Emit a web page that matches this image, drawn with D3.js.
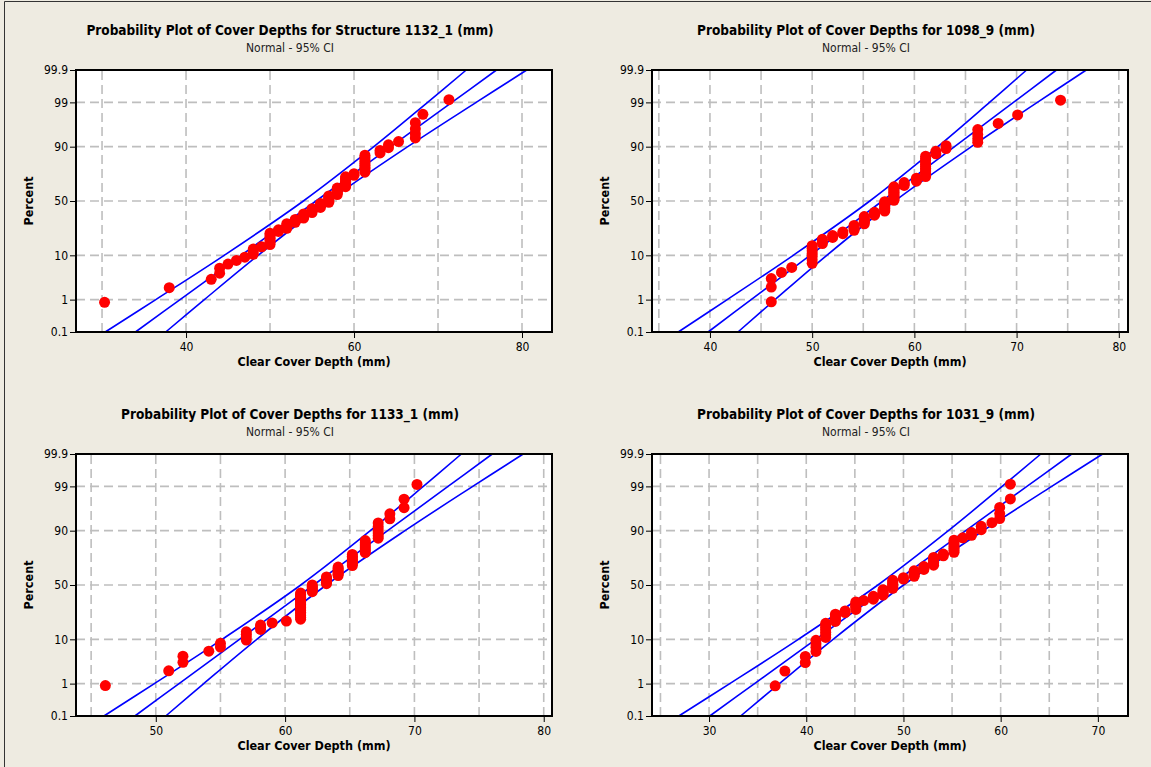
<!DOCTYPE html>
<html><head><meta charset="utf-8">
<script src="https://cdn.jsdelivr.net/npm/d3@7"></script>
<style>
html,body{margin:0;padding:0;background:#EEEBE1;}
svg{display:block;}
text{font-family:"DejaVu Sans Condensed","DejaVu Sans",sans-serif;font-stretch:condensed;fill:#000;}
</style></head><body>
<svg id="chart" width="1151" height="767"></svg>
<script>
// ---------- shared labels ----------
const percentTicks = [0.1, 1, 10, 50, 90, 99, 99.9];
const percentGrid = [1, 10, 50, 90, 99];
const subtitle = "Normal - 95% CI";
const xLabel = "Clear Cover Depth (mm)";
const yLabel = "Percent";
const titles = [
  "Probability Plot of Cover Depths for Structure 1132_1 (mm)",
  "Probability Plot of Cover Depths for 1098_9 (mm)",
  "Probability Plot of Cover Depths for 1133_1 (mm)",
  "Probability Plot of Cover Depths for 1031_9 (mm)"
];

// ---------- panel 1 : 1132_1 ----------
const depths1 = [30.3,38,43,44,45,46,47,48,49,50,51,52,53,54,55,56,57,58,59,60,61.3,63.1,64.1,65.3,67.3,68.2,71.3];
const counts1 = [1,1,1,2,1,1,1,3,1,7,2,4,3,4,4,4,6,6,8,2,10,2,2,1,4,1,1];
const fit1   = [33.98,39.29,46.56,55.47,64.38,71.65,76.96];
const lower1 = [30.38,36.40,44.54,53.97,62.36,68.76,73.36];
const upper1 = [37.58,42.18,48.58,56.97,66.40,74.54,80.56];
const xGrid1 = [30,40,50,60,70,80];
const xLabels1 = [40,60,80];

// ---------- panel 2 : 1098_9 ----------
const depths2 = [46,47,48,50,51,52,53,54.1,55.1,56.1,57.1,58,59,60.2,61.1,62.1,63.1,66.2,68.2,70.1,74.3];
const counts2 = [3,1,1,7,3,2,2,4,6,3,8,11,3,3,12,2,2,4,1,1,1];
const fit2   = [39.82,44.03,49.79,56.86,63.93,69.69,73.90];
const lower2 = [36.90,41.69,48.15,55.64,62.29,67.35,70.98];
const upper2 = [42.74,46.37,51.43,58.08,65.57,72.03,76.82];
const xGrid2 = [35,40,45,50,55,60,65,70,75,80];
const xLabels2 = [40,50,60,70,80];

// ---------- panel 3 : 1133_1 ----------
const depths3 = [46.1,51,52.1,54.1,55,57,58.1,59,60.1,61.2,62.1,63.2,64.1,65.2,66.2,67.2,68.1,69.2,70.2];
const counts3 = [1,1,2,1,2,4,3,1,1,18,6,6,7,8,7,6,2,2,1];
const fit3   = [48.38,51.80,56.47,62.20,67.93,72.60,76.02];
const lower3 = [45.99,49.89,55.13,61.21,66.59,70.69,73.63];
const upper3 = [50.77,53.71,57.81,63.19,69.27,74.51,78.41];
const xGrid3 = [45,50,55,60,65,70,75,80];
const xLabels3 = [50,60,70,80];

// ---------- panel 4 : 1031_9 ----------
const depths4 = [36.8,37.8,39.9,41,42,43,44,45.1,45.9,46.9,47.9,48.9,50,51.1,52.1,53.1,54.1,55.2,56.1,57,58,59.1,59.9,61];
const counts4 = [1,1,2,4,7,5,2,6,1,3,5,7,2,5,3,6,2,7,1,2,2,1,3,2];
const fit4   = [30.07,34.68,40.97,48.69,56.41,62.70,67.31];
const lower4 = [26.89,32.13,39.18,47.37,54.62,60.15,64.13];
const upper4 = [33.25,37.23,42.76,50.01,58.20,65.25,70.49];
const xGrid4 = [25,30,35,40,45,50,55,60,65,70];
const xLabels4 = [30,40,50,60,70];

// inverse standard normal CDF (Acklam)
function qnorm(p){
  const a=[-3.969683028665376e+01,2.209460984245205e+02,-2.759285104469687e+02,1.383577518672690e+02,-3.066479806614716e+01,2.506628277459239e+00];
  const b=[-5.447609879822406e+01,1.615858368580409e+02,-1.556989798598866e+02,6.680131188771972e+01,-1.328068155288572e+01];
  const c=[-7.784894002430293e-03,-3.223964580411365e-01,-2.400758277161838e+00,-2.549671010050803e+00,4.374664141464968e+00,2.938163982698783e+00];
  const d=[7.784695709041462e-03,3.224671290700398e-01,2.445134137142996e+00,3.754408661907416e+00];
  const pl=0.02425, ph=1-pl; let q,r;
  if(p<pl){q=Math.sqrt(-2*Math.log(p));return (((((c[0]*q+c[1])*q+c[2])*q+c[3])*q+c[4])*q+c[5])/((((d[0]*q+d[1])*q+d[2])*q+d[3])*q+1);}
  if(p<=ph){q=p-0.5;r=q*q;return (((((a[0]*r+a[1])*r+a[2])*r+a[3])*r+a[4])*r+a[5])*q/(((((b[0]*r+b[1])*r+b[2])*r+b[3])*r+b[4])*r+1);}
  q=Math.sqrt(-2*Math.log(1-p));return -(((((c[0]*q+c[1])*q+c[2])*q+c[3])*q+c[4])*q+c[5])/((((d[0]*q+d[1])*q+d[2])*q+d[3])*q+1);
}

const panels = [
  {ox:0,   oy:0,   title:titles[0], depths:depths1, counts:counts1, fit:fit1, lower:lower1, upper:upper1, xdom:[26.9,83.57], grid:xGrid1, labels:xLabels1},
  {ox:576, oy:0,   title:titles[1], depths:depths2, counts:counts2, fit:fit2, lower:lower2, upper:upper2, xdom:[34.33,80.9], grid:xGrid2, labels:xLabels2},
  {ox:0,   oy:384, title:titles[2], depths:depths3, counts:counts3, fit:fit3, lower:lower3, upper:upper3, xdom:[43.83,80.64], grid:xGrid3, labels:xLabels3},
  {ox:576, oy:384, title:titles[3], depths:depths4, counts:counts4, fit:fit4, lower:lower4, upper:upper4, xdom:[24.13,73.1], grid:xGrid4, labels:xLabels4}
];

const svg = d3.select("#chart");
svg.append("rect").attr("width",1151).attr("height",767).attr("fill","#EEEBE1");
// outer window frame
svg.append("line").attr("x1",4.5).attr("x2",4.5).attr("y1",1.5).attr("y2",767).attr("stroke","#333").attr("stroke-width",1);
svg.append("line").attr("x1",4.5).attr("x2",1151).attr("y1",1.5).attr("y2",1.5).attr("stroke","#333").attr("stroke-width",1);

const L=76, R=552, T=70, B=332;
const zmin = qnorm(0.001), zmax = qnorm(0.999);

panels.forEach((P,pi)=>{
  const g = svg.append("g").attr("transform",`translate(${P.ox},${P.oy})`);
  const x = d3.scaleLinear().domain(P.xdom).range([L,R]);
  const y = d3.scaleLinear().domain([zmin,zmax]).range([B,T]);

  g.append("text").attr("x",290).attr("y",35).attr("text-anchor","middle")
    .style("font-weight","bold").style("font-size","13.5px").text(P.title);
  g.append("text").attr("x",290).attr("y",52).attr("text-anchor","middle")
    .style("font-size","12px").style("fill","#222").text(subtitle);

  g.append("rect").attr("x",L).attr("y",T).attr("width",R-L).attr("height",B-T).attr("fill","#fff");

  // gridlines
  const grid = g.append("g").attr("stroke","#BEBEBE").attr("stroke-width",1.6).attr("stroke-dasharray","9,5");
  P.grid.forEach(v=>grid.append("line").attr("x1",x(v)).attr("x2",x(v)).attr("y1",B).attr("y2",T));
  percentGrid.forEach(p=>{const yy=y(qnorm(p/100)); grid.append("line").attr("x1",L).attr("x2",R).attr("y1",yy).attr("y2",yy);});

  // fit and CI lines
  const zs = percentTicks.map(p=>qnorm(p/100));
  const line = d3.line().x(d=>x(d[0])).y(d=>y(d[1])).curve(d3.curveCatmullRom.alpha(0.5));
  [P.lower,P.fit,P.upper].forEach(arr=>{
    g.append("path").datum(arr.map((v,i)=>[v,zs[i]])).attr("d",line)
      .attr("fill","none").attr("stroke","#0000FF").attr("stroke-width",1.6);
  });

  // points: expand values by counts, median ranks (Benard)
  const vals = [];
  P.depths.forEach((v,i)=>{for(let k=0;k<P.counts[i];k++) vals.push(v);});
  const n = vals.length;
  const pts = vals.map((v,i)=>[v, qnorm((i+1-0.3)/(n+0.4))]);
  g.append("g").selectAll("circle").data(pts).join("circle")
    .attr("cx",d=>x(d[0])).attr("cy",d=>y(d[1])).attr("r",5.5).attr("fill","#FF0000");

  // frame
  g.append("rect").attr("x",L).attr("y",T).attr("width",R-L).attr("height",B-T)
    .attr("fill","none").attr("stroke","#000").attr("stroke-width",2);

  // axes
  const ya = g.append("g").attr("transform",`translate(${L-1},0)`)
    .call(d3.axisLeft(y).tickValues(zs).tickFormat((d,i)=>String(percentTicks[i])).tickSize(5).tickPadding(2));
  ya.select(".domain").remove();
  ya.selectAll("text").style("font-size","12px").style("font-family",null);
  ya.selectAll("line").attr("stroke","#000");

  const xa = g.append("g").attr("transform",`translate(0,${B+1})`)
    .call(d3.axisBottom(x).tickValues(P.labels).tickSize(5).tickPadding(4));
  xa.select(".domain").remove();
  xa.selectAll("text").style("font-size","12px").style("font-family",null);
  xa.selectAll("line").attr("stroke","#000");
  ya.attr("font-family",null); xa.attr("font-family",null);

  g.append("text").attr("x",(L+R)/2).attr("y",366).attr("text-anchor","middle")
    .style("font-weight","bold").style("font-size","12.5px").text(xLabel);
  g.append("text").attr("transform",`translate(33,${(T+B)/2}) rotate(-90)`).attr("text-anchor","middle")
    .style("font-weight","bold").style("font-size","12.5px").text(yLabel);
});
</script>
</body></html>
